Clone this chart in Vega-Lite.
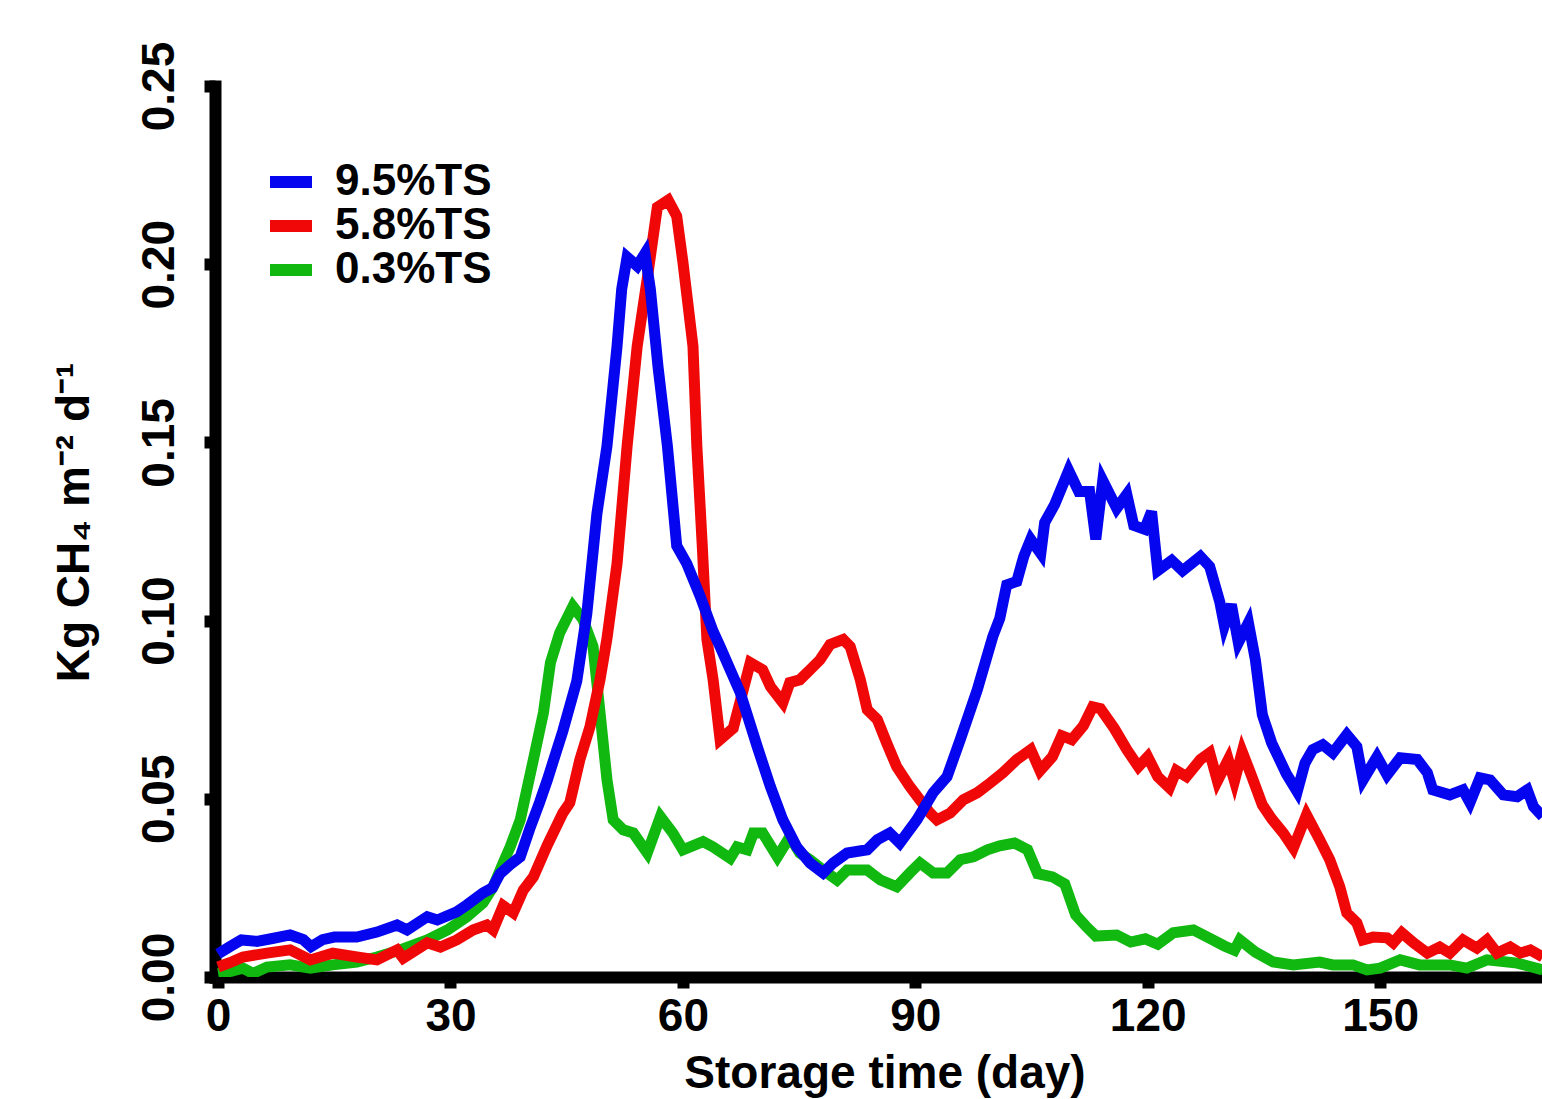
{
  "$schema": "https://vega.github.io/schema/vega-lite/v6.json",
  "width": 1327,
  "height": 891,
  "autosize": {"type": "none"},
  "padding": {"left": 215, "top": 86, "right": 0, "bottom": 122},
  "background": "white",
  "config": {
    "view": {"stroke": null},
    "font": "Liberation Sans",
    "axis": {
      "labelFont": "Liberation Sans", "labelFontWeight": "bold", "labelColor": "black",
      "titleFont": "Liberation Sans", "titleFontWeight": "bold", "titleColor": "black",
      "domainColor": "black", "domainWidth": 12, "domainCap": "square",
      "tickColor": "black", "tickWidth": 12, "tickSize": 11,
      "grid": false, "labelFlush": false, "labelOverlap": false, "zindex": 1
    }
  },
  "data": {"values": [
    {"d":0,"v":0.0065,"s":"9.5%TS"},{"d":1.5,"v":0.0085,"s":"9.5%TS"},{"d":3,"v":0.0104,"s":"9.5%TS"},{"d":5,"v":0.0100,"s":"9.5%TS"},{"d":7,"v":0.0108,"s":"9.5%TS"},{"d":9.3,"v":0.0118,"s":"9.5%TS"},{"d":11,"v":0.0105,"s":"9.5%TS"},{"d":12,"v":0.0085,"s":"9.5%TS"},{"d":13.5,"v":0.0105,"s":"9.5%TS"},{"d":15,"v":0.0112,"s":"9.5%TS"},{"d":17.9,"v":0.0112,"s":"9.5%TS"},{"d":20.5,"v":0.0126,"s":"9.5%TS"},{"d":23.1,"v":0.0146,"s":"9.5%TS"},{"d":24.4,"v":0.0132,"s":"9.5%TS"},{"d":27,"v":0.0169,"s":"9.5%TS"},{"d":28.3,"v":0.016,"s":"9.5%TS"},{"d":30.8,"v":0.0183,"s":"9.5%TS"},{"d":32.1,"v":0.0202,"s":"9.5%TS"},{"d":34.2,"v":0.0236,"s":"9.5%TS"},{"d":35.4,"v":0.025,"s":"9.5%TS"},{"d":36.4,"v":0.029,"s":"9.5%TS"},{"d":37.7,"v":0.0315,"s":"9.5%TS"},{"d":39,"v":0.0337,"s":"9.5%TS"},{"d":40.3,"v":0.042,"s":"9.5%TS"},{"d":41.5,"v":0.049,"s":"9.5%TS"},{"d":42.5,"v":0.0553,"s":"9.5%TS"},{"d":44.5,"v":0.069,"s":"9.5%TS"},{"d":46.3,"v":0.083,"s":"9.5%TS"},{"d":47.6,"v":0.102,"s":"9.5%TS"},{"d":48.9,"v":0.13,"s":"9.5%TS"},{"d":50.2,"v":0.149,"s":"9.5%TS"},{"d":51.5,"v":0.177,"s":"9.5%TS"},{"d":52.1,"v":0.193,"s":"9.5%TS"},{"d":52.8,"v":0.202,"s":"9.5%TS"},{"d":54.1,"v":0.1995,"s":"9.5%TS"},{"d":55.1,"v":0.203,"s":"9.5%TS"},{"d":55.8,"v":0.193,"s":"9.5%TS"},{"d":56.8,"v":0.171,"s":"9.5%TS"},{"d":58,"v":0.149,"s":"9.5%TS"},{"d":59.2,"v":0.121,"s":"9.5%TS"},{"d":60.5,"v":0.116,"s":"9.5%TS"},{"d":62.2,"v":0.107,"s":"9.5%TS"},{"d":63.9,"v":0.097,"s":"9.5%TS"},{"d":64.8,"v":0.0927,"s":"9.5%TS"},{"d":67.4,"v":0.0798,"s":"9.5%TS"},{"d":69.6,"v":0.0646,"s":"9.5%TS"},{"d":71.3,"v":0.0534,"s":"9.5%TS"},{"d":72.9,"v":0.0441,"s":"9.5%TS"},{"d":74.7,"v":0.0365,"s":"9.5%TS"},{"d":76.4,"v":0.032,"s":"9.5%TS"},{"d":78.1,"v":0.0292,"s":"9.5%TS"},{"d":79.4,"v":0.032,"s":"9.5%TS"},{"d":81.2,"v":0.0348,"s":"9.5%TS"},{"d":83.8,"v":0.0357,"s":"9.5%TS"},{"d":85.1,"v":0.0385,"s":"9.5%TS"},{"d":86.7,"v":0.0404,"s":"9.5%TS"},{"d":88,"v":0.0376,"s":"9.5%TS"},{"d":90.2,"v":0.0441,"s":"9.5%TS"},{"d":92.3,"v":0.0517,"s":"9.5%TS"},{"d":94.1,"v":0.0562,"s":"9.5%TS"},{"d":95.8,"v":0.0666,"s":"9.5%TS"},{"d":98,"v":0.0806,"s":"9.5%TS"},{"d":100,"v":0.0955,"s":"9.5%TS"},{"d":100.9,"v":0.1006,"s":"9.5%TS"},{"d":101.8,"v":0.11,"s":"9.5%TS"},{"d":103.1,"v":0.111,"s":"9.5%TS"},{"d":104,"v":0.118,"s":"9.5%TS"},{"d":104.9,"v":0.1228,"s":"9.5%TS"},{"d":106.2,"v":0.1188,"s":"9.5%TS"},{"d":106.7,"v":0.1275,"s":"9.5%TS"},{"d":108,"v":0.1326,"s":"9.5%TS"},{"d":109.8,"v":0.1421,"s":"9.5%TS"},{"d":111.1,"v":0.1362,"s":"9.5%TS"},{"d":112.5,"v":0.1362,"s":"9.5%TS"},{"d":113.3,"v":0.1228,"s":"9.5%TS"},{"d":114.2,"v":0.1393,"s":"9.5%TS"},{"d":116,"v":0.1315,"s":"9.5%TS"},{"d":117.3,"v":0.1354,"s":"9.5%TS"},{"d":118.2,"v":0.1267,"s":"9.5%TS"},{"d":119.6,"v":0.1256,"s":"9.5%TS"},{"d":120.5,"v":0.1306,"s":"9.5%TS"},{"d":121.3,"v":0.114,"s":"9.5%TS"},{"d":123.1,"v":0.1169,"s":"9.5%TS"},{"d":124.5,"v":0.114,"s":"9.5%TS"},{"d":126.8,"v":0.118,"s":"9.5%TS"},{"d":128,"v":0.1152,"s":"9.5%TS"},{"d":129.3,"v":0.1053,"s":"9.5%TS"},{"d":129.9,"v":0.0986,"s":"9.5%TS"},{"d":130.8,"v":0.1045,"s":"9.5%TS"},{"d":131.7,"v":0.0938,"s":"9.5%TS"},{"d":133,"v":0.0994,"s":"9.5%TS"},{"d":133.9,"v":0.089,"s":"9.5%TS"},{"d":134.8,"v":0.0736,"s":"9.5%TS"},{"d":136,"v":0.0657,"s":"9.5%TS"},{"d":137.9,"v":0.057,"s":"9.5%TS"},{"d":139.3,"v":0.052,"s":"9.5%TS"},{"d":140.3,"v":0.06,"s":"9.5%TS"},{"d":141.3,"v":0.0638,"s":"9.5%TS"},{"d":142.6,"v":0.0652,"s":"9.5%TS"},{"d":143.9,"v":0.0629,"s":"9.5%TS"},{"d":145.7,"v":0.068,"s":"9.5%TS"},{"d":147,"v":0.0646,"s":"9.5%TS"},{"d":147.8,"v":0.0553,"s":"9.5%TS"},{"d":149.6,"v":0.0618,"s":"9.5%TS"},{"d":150.9,"v":0.0567,"s":"9.5%TS"},{"d":152.6,"v":0.0615,"s":"9.5%TS"},{"d":154.8,"v":0.061,"s":"9.5%TS"},{"d":156.1,"v":0.0573,"s":"9.5%TS"},{"d":156.8,"v":0.0525,"s":"9.5%TS"},{"d":159,"v":0.0511,"s":"9.5%TS"},{"d":160.7,"v":0.0525,"s":"9.5%TS"},{"d":161.6,"v":0.0489,"s":"9.5%TS"},{"d":162.9,"v":0.0559,"s":"9.5%TS"},{"d":164.2,"v":0.0553,"s":"9.5%TS"},{"d":165.9,"v":0.0511,"s":"9.5%TS"},{"d":167.7,"v":0.0506,"s":"9.5%TS"},{"d":169,"v":0.0525,"s":"9.5%TS"},{"d":169.8,"v":0.0478,"s":"9.5%TS"},{"d":171,"v":0.045,"s":"9.5%TS"},

    {"d":0,"v":0.0028,"s":"5.8%TS"},{"d":1.5,"v":0.004,"s":"5.8%TS"},{"d":3.2,"v":0.0056,"s":"5.8%TS"},{"d":6.3,"v":0.0067,"s":"5.8%TS"},{"d":9.3,"v":0.0076,"s":"5.8%TS"},{"d":11.9,"v":0.0048,"s":"5.8%TS"},{"d":14.8,"v":0.0067,"s":"5.8%TS"},{"d":17.9,"v":0.0056,"s":"5.8%TS"},{"d":20.5,"v":0.0048,"s":"5.8%TS"},{"d":23.1,"v":0.0076,"s":"5.8%TS"},{"d":23.9,"v":0.0053,"s":"5.8%TS"},{"d":27,"v":0.0096,"s":"5.8%TS"},{"d":28.7,"v":0.0084,"s":"5.8%TS"},{"d":30.8,"v":0.0104,"s":"5.8%TS"},{"d":32.9,"v":0.0132,"s":"5.8%TS"},{"d":34.7,"v":0.0146,"s":"5.8%TS"},{"d":35.5,"v":0.0132,"s":"5.8%TS"},{"d":36.8,"v":0.02,"s":"5.8%TS"},{"d":38.1,"v":0.018,"s":"5.8%TS"},{"d":39.4,"v":0.0244,"s":"5.8%TS"},{"d":40.7,"v":0.0281,"s":"5.8%TS"},{"d":42.5,"v":0.037,"s":"5.8%TS"},{"d":44.5,"v":0.046,"s":"5.8%TS"},{"d":45.4,"v":0.0489,"s":"5.8%TS"},{"d":46.7,"v":0.061,"s":"5.8%TS"},{"d":48,"v":0.0702,"s":"5.8%TS"},{"d":49.3,"v":0.0834,"s":"5.8%TS"},{"d":50.2,"v":0.095,"s":"5.8%TS"},{"d":51.5,"v":0.116,"s":"5.8%TS"},{"d":52.8,"v":0.149,"s":"5.8%TS"},{"d":54.1,"v":0.177,"s":"5.8%TS"},{"d":55.4,"v":0.196,"s":"5.8%TS"},{"d":56.7,"v":0.216,"s":"5.8%TS"},{"d":58.1,"v":0.218,"s":"5.8%TS"},{"d":59.2,"v":0.2135,"s":"5.8%TS"},{"d":60,"v":0.2006,"s":"5.8%TS"},{"d":61.3,"v":0.177,"s":"5.8%TS"},{"d":61.8,"v":0.149,"s":"5.8%TS"},{"d":62.5,"v":0.121,"s":"5.8%TS"},{"d":63.1,"v":0.0947,"s":"5.8%TS"},{"d":63.9,"v":0.0834,"s":"5.8%TS"},{"d":64.8,"v":0.0666,"s":"5.8%TS"},{"d":66.5,"v":0.0698,"s":"5.8%TS"},{"d":68.7,"v":0.0882,"s":"5.8%TS"},{"d":70.3,"v":0.0862,"s":"5.8%TS"},{"d":71.3,"v":0.0815,"s":"5.8%TS"},{"d":72.9,"v":0.077,"s":"5.8%TS"},{"d":73.8,"v":0.0826,"s":"5.8%TS"},{"d":75.1,"v":0.0834,"s":"5.8%TS"},{"d":76.4,"v":0.0862,"s":"5.8%TS"},{"d":77.7,"v":0.089,"s":"5.8%TS"},{"d":79,"v":0.0933,"s":"5.8%TS"},{"d":80.7,"v":0.0947,"s":"5.8%TS"},{"d":81.6,"v":0.0927,"s":"5.8%TS"},{"d":82.9,"v":0.0834,"s":"5.8%TS"},{"d":83.8,"v":0.075,"s":"5.8%TS"},{"d":85.1,"v":0.0722,"s":"5.8%TS"},{"d":86.3,"v":0.0657,"s":"5.8%TS"},{"d":87.6,"v":0.059,"s":"5.8%TS"},{"d":89.3,"v":0.0534,"s":"5.8%TS"},{"d":90.6,"v":0.0497,"s":"5.8%TS"},{"d":91.9,"v":0.046,"s":"5.8%TS"},{"d":92.8,"v":0.0441,"s":"5.8%TS"},{"d":94.5,"v":0.046,"s":"5.8%TS"},{"d":96.2,"v":0.0497,"s":"5.8%TS"},{"d":98,"v":0.0517,"s":"5.8%TS"},{"d":99.7,"v":0.0545,"s":"5.8%TS"},{"d":101.3,"v":0.0573,"s":"5.8%TS"},{"d":103.1,"v":0.061,"s":"5.8%TS"},{"d":104.9,"v":0.0638,"s":"5.8%TS"},{"d":106.1,"v":0.0579,"s":"5.8%TS"},{"d":107.7,"v":0.0618,"s":"5.8%TS"},{"d":108.9,"v":0.0677,"s":"5.8%TS"},{"d":110.2,"v":0.0666,"s":"5.8%TS"},{"d":111.7,"v":0.0705,"s":"5.8%TS"},{"d":112.9,"v":0.0758,"s":"5.8%TS"},{"d":113.9,"v":0.0753,"s":"5.8%TS"},{"d":115.7,"v":0.0697,"s":"5.8%TS"},{"d":117.3,"v":0.0638,"s":"5.8%TS"},{"d":118.8,"v":0.059,"s":"5.8%TS"},{"d":120,"v":0.0618,"s":"5.8%TS"},{"d":121.3,"v":0.0562,"s":"5.8%TS"},{"d":122.8,"v":0.0531,"s":"5.8%TS"},{"d":123.7,"v":0.0579,"s":"5.8%TS"},{"d":125,"v":0.0562,"s":"5.8%TS"},{"d":126.8,"v":0.061,"s":"5.8%TS"},{"d":128,"v":0.0629,"s":"5.8%TS"},{"d":129,"v":0.055,"s":"5.8%TS"},{"d":130.4,"v":0.061,"s":"5.8%TS"},{"d":131.2,"v":0.055,"s":"5.8%TS"},{"d":132.2,"v":0.0632,"s":"5.8%TS"},{"d":133.4,"v":0.0565,"s":"5.8%TS"},{"d":134.8,"v":0.0483,"s":"5.8%TS"},{"d":136,"v":0.0444,"s":"5.8%TS"},{"d":137.5,"v":0.0404,"s":"5.8%TS"},{"d":138.8,"v":0.0362,"s":"5.8%TS"},{"d":140.5,"v":0.0455,"s":"5.8%TS"},{"d":142.2,"v":0.0385,"s":"5.8%TS"},{"d":143.5,"v":0.0329,"s":"5.8%TS"},{"d":144.8,"v":0.0253,"s":"5.8%TS"},{"d":145.7,"v":0.018,"s":"5.8%TS"},{"d":147,"v":0.0152,"s":"5.8%TS"},{"d":147.8,"v":0.0104,"s":"5.8%TS"},{"d":149.1,"v":0.0112,"s":"5.8%TS"},{"d":150.9,"v":0.011,"s":"5.8%TS"},{"d":151.7,"v":0.0096,"s":"5.8%TS"},{"d":152.8,"v":0.0124,"s":"5.8%TS"},{"d":154.3,"v":0.0096,"s":"5.8%TS"},{"d":156.1,"v":0.0067,"s":"5.8%TS"},{"d":157.7,"v":0.0084,"s":"5.8%TS"},{"d":159,"v":0.0067,"s":"5.8%TS"},{"d":160.7,"v":0.0104,"s":"5.8%TS"},{"d":162.5,"v":0.0081,"s":"5.8%TS"},{"d":163.8,"v":0.0104,"s":"5.8%TS"},{"d":165.1,"v":0.0067,"s":"5.8%TS"},{"d":166.8,"v":0.0084,"s":"5.8%TS"},{"d":168.1,"v":0.0067,"s":"5.8%TS"},{"d":169.4,"v":0.0076,"s":"5.8%TS"},{"d":171,"v":0.0056,"s":"5.8%TS"},

    {"d":0,"v":0.001,"s":"0.3%TS"},{"d":1.5,"v":0.0015,"s":"0.3%TS"},{"d":3.2,"v":0.0025,"s":"0.3%TS"},{"d":4.5,"v":0.001,"s":"0.3%TS"},{"d":6.3,"v":0.0028,"s":"0.3%TS"},{"d":9.3,"v":0.0034,"s":"0.3%TS"},{"d":11.9,"v":0.0025,"s":"0.3%TS"},{"d":14.8,"v":0.0034,"s":"0.3%TS"},{"d":17.9,"v":0.0042,"s":"0.3%TS"},{"d":20.5,"v":0.0056,"s":"0.3%TS"},{"d":23.5,"v":0.0076,"s":"0.3%TS"},{"d":27,"v":0.0104,"s":"0.3%TS"},{"d":29.6,"v":0.0132,"s":"0.3%TS"},{"d":32.1,"v":0.0169,"s":"0.3%TS"},{"d":34.2,"v":0.0208,"s":"0.3%TS"},{"d":35.5,"v":0.0253,"s":"0.3%TS"},{"d":36.8,"v":0.032,"s":"0.3%TS"},{"d":37.7,"v":0.0365,"s":"0.3%TS"},{"d":39,"v":0.0441,"s":"0.3%TS"},{"d":40.7,"v":0.061,"s":"0.3%TS"},{"d":42,"v":0.0742,"s":"0.3%TS"},{"d":42.9,"v":0.0882,"s":"0.3%TS"},{"d":44.1,"v":0.0966,"s":"0.3%TS"},{"d":45.8,"v":0.104,"s":"0.3%TS"},{"d":47.1,"v":0.1003,"s":"0.3%TS"},{"d":48.4,"v":0.0927,"s":"0.3%TS"},{"d":49.3,"v":0.0742,"s":"0.3%TS"},{"d":50.2,"v":0.0553,"s":"0.3%TS"},{"d":51,"v":0.0441,"s":"0.3%TS"},{"d":52.3,"v":0.0413,"s":"0.3%TS"},{"d":53.6,"v":0.0404,"s":"0.3%TS"},{"d":55.4,"v":0.0348,"s":"0.3%TS"},{"d":57.1,"v":0.045,"s":"0.3%TS"},{"d":58.7,"v":0.0404,"s":"0.3%TS"},{"d":60,"v":0.0357,"s":"0.3%TS"},{"d":62.6,"v":0.038,"s":"0.3%TS"},{"d":63.9,"v":0.0365,"s":"0.3%TS"},{"d":66.1,"v":0.0333,"s":"0.3%TS"},{"d":67,"v":0.0365,"s":"0.3%TS"},{"d":68.3,"v":0.0357,"s":"0.3%TS"},{"d":69.1,"v":0.0404,"s":"0.3%TS"},{"d":70.3,"v":0.0404,"s":"0.3%TS"},{"d":72.2,"v":0.0337,"s":"0.3%TS"},{"d":73.8,"v":0.0393,"s":"0.3%TS"},{"d":75.1,"v":0.0348,"s":"0.3%TS"},{"d":76.4,"v":0.0329,"s":"0.3%TS"},{"d":78.1,"v":0.03,"s":"0.3%TS"},{"d":79.9,"v":0.0272,"s":"0.3%TS"},{"d":81.2,"v":0.03,"s":"0.3%TS"},{"d":83.8,"v":0.03,"s":"0.3%TS"},{"d":85.5,"v":0.0272,"s":"0.3%TS"},{"d":87.6,"v":0.0253,"s":"0.3%TS"},{"d":89.3,"v":0.0292,"s":"0.3%TS"},{"d":90.6,"v":0.032,"s":"0.3%TS"},{"d":92.3,"v":0.0292,"s":"0.3%TS"},{"d":94.1,"v":0.0292,"s":"0.3%TS"},{"d":95.8,"v":0.0329,"s":"0.3%TS"},{"d":97.5,"v":0.0337,"s":"0.3%TS"},{"d":99.3,"v":0.0357,"s":"0.3%TS"},{"d":100.9,"v":0.0368,"s":"0.3%TS"},{"d":102.8,"v":0.0376,"s":"0.3%TS"},{"d":104.5,"v":0.0357,"s":"0.3%TS"},{"d":105.8,"v":0.029,"s":"0.3%TS"},{"d":107.7,"v":0.0281,"s":"0.3%TS"},{"d":109.3,"v":0.0261,"s":"0.3%TS"},{"d":110.7,"v":0.0174,"s":"0.3%TS"},{"d":112,"v":0.0143,"s":"0.3%TS"},{"d":113.3,"v":0.0115,"s":"0.3%TS"},{"d":116,"v":0.0118,"s":"0.3%TS"},{"d":117.8,"v":0.0098,"s":"0.3%TS"},{"d":119.7,"v":0.0107,"s":"0.3%TS"},{"d":121.3,"v":0.0092,"s":"0.3%TS"},{"d":123.3,"v":0.0124,"s":"0.3%TS"},{"d":125.9,"v":0.0132,"s":"0.3%TS"},{"d":128.4,"v":0.0104,"s":"0.3%TS"},{"d":129.9,"v":0.0087,"s":"0.3%TS"},{"d":131.2,"v":0.0075,"s":"0.3%TS"},{"d":131.9,"v":0.0104,"s":"0.3%TS"},{"d":133.9,"v":0.007,"s":"0.3%TS"},{"d":136.2,"v":0.0042,"s":"0.3%TS"},{"d":138.8,"v":0.0034,"s":"0.3%TS"},{"d":142.2,"v":0.0042,"s":"0.3%TS"},{"d":143.9,"v":0.0034,"s":"0.3%TS"},{"d":146.5,"v":0.0034,"s":"0.3%TS"},{"d":148.3,"v":0.002,"s":"0.3%TS"},{"d":150,"v":0.0025,"s":"0.3%TS"},{"d":152.6,"v":0.0048,"s":"0.3%TS"},{"d":155.1,"v":0.0034,"s":"0.3%TS"},{"d":159,"v":0.0034,"s":"0.3%TS"},{"d":161.2,"v":0.0025,"s":"0.3%TS"},{"d":163.8,"v":0.0048,"s":"0.3%TS"},{"d":167.7,"v":0.0039,"s":"0.3%TS"},{"d":171,"v":0.002,"s":"0.3%TS"}
  ]},
  "encoding": {
    "x": {
      "field": "d", "type": "quantitative",
      "scale": {"domain": [-0.4, 170.9], "nice": false, "zero": false},
      "axis": {
        "values": [0, 30, 60, 90, 120, 150], "format": "d",
        "labelFontSize": 46, "labelPadding": 6,
        "title": "Storage time (day)", "titleFontSize": 46,
        "titleX": 669.5, "titleY": 110.5, "titleAlign": "center", "titleBaseline": "alphabetic"
      }
    },
    "y": {
      "field": "v", "type": "quantitative",
      "scale": {"domain": [0, 0.25], "nice": false},
      "axis": {
        "values": [0, 0.05, 0.1, 0.15, 0.2, 0.25], "format": ".2f",
        "labelFontSize": 46, "labelAngle": -90, "labelAlign": "center", "labelBaseline": "alphabetic", "labelPadding": 31,
        "title": "Kg CH₄ m⁻² d⁻¹", "titleFontSize": 46, "titleAngle": -90,
        "titleX": -127, "titleY": 436, "titleAlign": "center", "titleBaseline": "alphabetic"
      }
    },
    "color": {
      "field": "s", "type": "nominal",
      "scale": {"domain": ["9.5%TS", "5.8%TS", "0.3%TS"], "range": ["#0505f0", "#f00808", "#10b810"]},
      "legend": {
        "title": null, "orient": "none", "legendX": 54, "legendY": 74, "padding": 0,
        "symbolType": "M-1,-0.2857H1V0.2857H-1Z", "symbolSize": 1764, "symbolStrokeWidth": 0,
        "labelFont": "Liberation Sans", "labelFontWeight": "bold", "labelFontSize": 44, "labelColor": "black",
        "labelOffset": 22, "rowPadding": 0, "labelLimit": 400,
        "encode": {"symbols": {"update": {"fill": {"scale": "color", "field": "value"}, "fillOpacity": {"value": 1}, "strokeWidth": {"value": 0}}}}
      }
    }
  },
  "layer": [
    {"transform": [{"filter": "datum.s === '0.3%TS'"}], "mark": {"type": "line", "strokeWidth": 11, "clip": true}},
    {"transform": [{"filter": "datum.s === '5.8%TS'"}], "mark": {"type": "line", "strokeWidth": 11, "clip": true}},
    {"transform": [{"filter": "datum.s === '9.5%TS'"}], "mark": {"type": "line", "strokeWidth": 11, "clip": true}}
  ]
}
